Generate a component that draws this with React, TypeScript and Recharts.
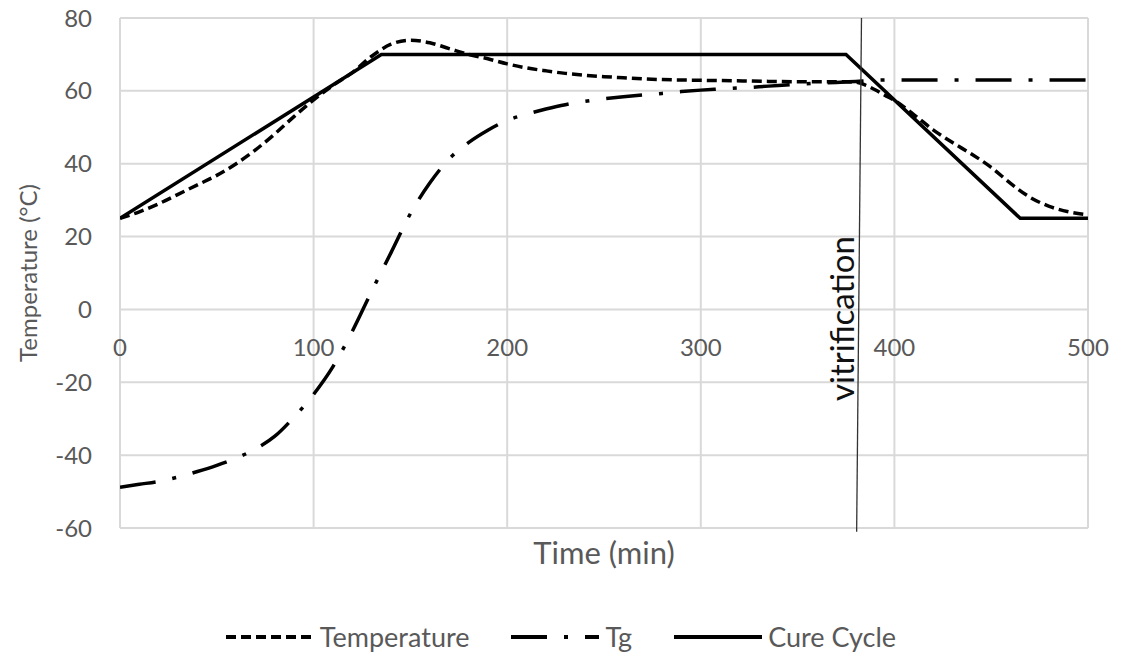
import React from 'react';
import { LineChart, Line, XAxis, YAxis, CartesianGrid, ReferenceLine, ReferenceDot, Label } from 'recharts';

// time (min) / value (°C)
const tempTimes = [0, 10, 20, 30, 40, 50, 60, 70, 80, 90, 100, 110, 120, 130, 140, 150, 160, 170, 180, 190, 200, 210, 220, 230, 240, 250, 260, 270, 280, 300, 325, 350, 375, 380, 385, 390, 395, 400, 410, 420, 430, 440, 450, 460, 470, 480, 490, 500];
const tempValues = [25, 26.8, 29, 31.6, 34.2, 36.8, 40, 43.8, 48.2, 53, 57.5, 61.5, 65, 69.5, 72.8, 73.9, 73.2, 71.6, 70, 68.8, 67.4, 66.3, 65.5, 64.8, 64.3, 63.9, 63.6, 63.3, 63.1, 62.9, 62.7, 62.5, 62.5, 62.4, 61.6, 60.3, 58.8, 57.4, 53.5, 49.3, 45.8, 42.6, 39, 34.6, 30.8, 28.3, 26.8, 26];

const tgTimes = [0, 10, 20, 30, 40, 50, 60, 70, 80, 90, 100, 110, 120, 130, 140, 150, 160, 170, 180, 190, 200, 210, 220, 230, 240, 250, 260, 270, 280, 290, 300, 310, 320, 330, 340, 350, 360, 370, 380, 390, 400, 450, 500];
const tgValues = [-48.8, -48, -47.2, -46, -44.5, -42.8, -40.8, -38.3, -34.8, -29.5, -23.3, -15.7, -6, 5, 15.6, 26.3, 34.7, 41.3, 45.8, 49.2, 51.9, 53.6, 55, 56.2, 57.1, 57.8, 58.4, 58.9, 59.3, 59.8, 60.2, 60.5, 60.8, 61.1, 61.5, 61.8, 62.1, 62.3, 62.6, 62.9, 63, 63, 63];

const cureTimes = [0, 135, 375, 465, 500];
const cureValues = [25, 70, 70, 25, 25];

const xTicks = [0, 100, 200, 300, 400, 500];
const yTicks = [-60, -40, -20, 0, 20, 40, 60, 80];

const vitrificationTop = { t: 383, v: 80 };
const vitrificationBottom = { t: 380.5, v: -61 };
const vitrificationLabelAt = { t: 372.5, v: -2.5 };

const toRows = (ts: number[], vs: number[]) => ts.map((t, i) => ({ t, v: vs[i] }));

const W = 1122;
const H = 658;
const PLOT_TOP = 18;
const PLOT_BOTTOM_MARGIN = 80;
const X_AXIS_H = 50;
const PLOT_H = H - PLOT_TOP - PLOT_BOTTOM_MARGIN - X_AXIS_H;
const ZERO_Y = PLOT_TOP + (80 / 140) * PLOT_H;

const FONT = 'Lato, "Open Sans", sans-serif';
const GREY = '#595959';

const TG_DASH = '36 17 4 17';
const TEMP_DASH = '10 5';

// x tick labels sit under the 0 °C line, not under the plot
const XTick = ({ x, payload }: any) => (
  <text x={x} y={ZERO_Y + 38} dy="0.35em" textAnchor="middle" fill={GREY} fontSize={24} fontFamily={FONT}>
    {payload.value}
  </text>
);

const VitrificationText = ({ cx, cy }: any) => (
  <text
    x={cx}
    y={cy}
    transform={`rotate(-90, ${cx}, ${cy})`}
    textAnchor="middle"
    dominantBaseline="central"
    fill="#111"
    fontSize={33}
    fontFamily={FONT}
  >
    vitrification
  </text>
);

const legendItems = [
  { name: 'Temperature', dash: TEMP_DASH },
  { name: 'Tg', dash: TG_DASH },
  { name: 'Cure Cycle', dash: undefined as string | undefined },
];

const ChartLegend = () => (
  <div
    style={{
      position: 'absolute',
      top: 620,
      left: 0,
      width: W,
      display: 'flex',
      justifyContent: 'center',
      gap: 42,
      fontFamily: FONT,
      fontSize: 27,
      color: GREY,
    }}
  >
    {legendItems.map((it) => (
      <div key={it.name} style={{ display: 'flex', alignItems: 'center' }}>
        <svg width={88} height={10} style={{ marginRight: 6 }}>
          <line x1={0} y1={5} x2={88} y2={5} stroke="#000" strokeWidth={4} strokeDasharray={it.dash} />
        </svg>
        <span>{it.name}</span>
      </div>
    ))}
  </div>
);

export default function App() {
  return (
    <div style={{ position: 'absolute', left: 0, top: 0, width: W, height: H, background: '#fff' }}>
      <LineChart width={W} height={H} margin={{ top: PLOT_TOP, right: 34, bottom: PLOT_BOTTOM_MARGIN, left: 0 }}>
        <CartesianGrid stroke="#d9d9d9" strokeWidth={2} />
        <XAxis
          type="number"
          dataKey="t"
          domain={[0, 500]}
          ticks={xTicks}
          axisLine={false}
          tickLine={false}
          height={X_AXIS_H}
          tick={<XTick />}
          allowDataOverflow
        >
          <Label value="Time (min)" position="center" dy={0} fill={GREY} fontSize={31} fontFamily={FONT} />
        </XAxis>
        <YAxis
          type="number"
          domain={[-60, 80]}
          ticks={yTicks}
          axisLine={false}
          tickLine={false}
          width={120}
          tickMargin={22}
          tick={{ fill: GREY, fontSize: 24, fontFamily: FONT }}
        >
          <Label
            value="Temperature (°C)"
            angle={-90}
            position="center"
            dx={-32}
            fill={GREY}
            fontSize={24}
            fontFamily={FONT}
          />
        </YAxis>
        <Line
          data={toRows(tgTimes, tgValues)}
          dataKey="v"
          type="monotone"
          stroke="#000"
          strokeWidth={3.5}
          strokeDasharray={TG_DASH}
          dot={false}
          isAnimationActive={false}
        />
        <Line
          data={toRows(tempTimes, tempValues)}
          dataKey="v"
          type="monotone"
          stroke="#000"
          strokeWidth={3.5}
          strokeDasharray={TEMP_DASH}
          dot={false}
          isAnimationActive={false}
        />
        <Line
          data={toRows(cureTimes, cureValues)}
          dataKey="v"
          type="linear"
          stroke="#000"
          strokeWidth={3.5}
          dot={false}
          isAnimationActive={false}
        />
        <ReferenceLine
          segment={[
            { x: vitrificationTop.t, y: vitrificationTop.v },
            { x: vitrificationBottom.t, y: vitrificationBottom.v },
          ]}
          stroke="#333"
          strokeWidth={1.3}
          ifOverflow="visible"
        />
        <ReferenceDot
          x={vitrificationLabelAt.t}
          y={vitrificationLabelAt.v}
          r={0}
          ifOverflow="visible"
          shape={<VitrificationText />}
        />
      </LineChart>
      <ChartLegend />
    </div>
  );
}
